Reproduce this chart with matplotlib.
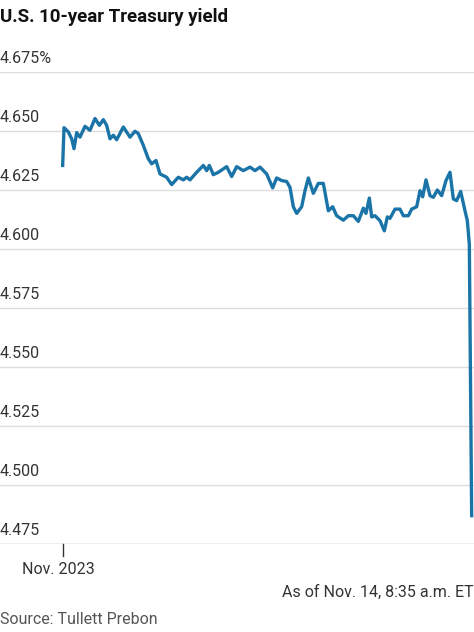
import matplotlib.pyplot as plt
import numpy as np

zx = [38,42,55,65,72,80,90,105,120,135,148,160,170,180,190,200,220,240,255,265,280,295,305,318,330,350,365,385,400,410,420,440,460,470,478,490,505,530,545,560,580,600,615,630,650,668,680,695,710,720,730,740,755,765,775,790,805,820,835,848,860,880,895,910,925,940,948,958,965,975,990,1003,1012,1020,1035,1050,1060,1075,1085,1100,1110,1118,1128,1140,1150,1162,1175,1188,1200,1210,1220,1232,1245,1252,1258,1265]
yields = [4.6354,4.6514,4.6496,4.6467,4.6425,4.6493,4.6474,4.6520,4.6503,4.6553,4.6524,4.6548,4.6524,4.6467,4.6482,4.6463,4.6517,4.6474,4.6499,4.6489,4.6439,4.6382,4.6361,4.6375,4.6318,4.6304,4.6273,4.6304,4.6293,4.6304,4.6293,4.6325,4.6354,4.6332,4.6354,4.6315,4.6325,4.6349,4.6307,4.6349,4.6332,4.6347,4.6332,4.6347,4.6318,4.6259,4.6301,4.6290,4.6286,4.6261,4.6179,4.6151,4.6179,4.6247,4.6301,4.6236,4.6278,4.6278,4.6162,4.6179,4.6141,4.6122,4.6141,4.6141,4.6117,4.6173,4.6151,4.6216,4.6136,4.6141,4.6120,4.6077,4.6136,4.6130,4.6169,4.6169,4.6141,4.6141,4.6169,4.6179,4.6247,4.6221,4.6293,4.6226,4.6219,4.6250,4.6226,4.6290,4.6325,4.6212,4.6205,4.6244,4.6162,4.6120,4.6020,4.4870]
ytick_vals = [4.475,4.500,4.525,4.550,4.575,4.600,4.625,4.650,4.675]
ytick_labels = ["4.475","4.500","4.525","4.550","4.575","4.600","4.625","4.650","4.675%"]

x = 50 + np.array(zx)/3.0

W, H = 474, 632
fig = plt.figure(figsize=(W/100, H/100), dpi=100)
plt.rcParams['font.family'] = ['Roboto', 'DejaVu Sans']
ax = fig.add_axes([0, 1-544/H, 1, (544-72)/H])
ax.set_xlim(0, 474)
ax.set_ylim(4.475, 4.675)
for v in ytick_vals:
    ax.axhline(v, color='#dddddd', lw=1, zorder=1)
ax.axhline(4.475, color='#cccccc', lw=1, zorder=1)
ax.plot(x, yields, color='#1a74a8', lw=2.4, zorder=3, solid_joinstyle='round')
for v, l in zip(ytick_vals, ytick_labels):
    ax.text(0, v + 0.0025, l, fontsize=11.5, color='#333333', va='bottom', ha='left')
for s in ax.spines.values():
    s.set_visible(False)
ax.set_xticks([]); ax.set_yticks([])
ax.plot([x[0], x[0]], [4.475, 4.470], color='#333333', lw=1, clip_on=False)

fig.text(0, 1-17/H, "U.S. 10-year Treasury yield", fontsize=13.5, fontweight='bold', va='center', ha='left', color='#111111')
fig.text(22/W, 1-569/H, "Nov. 2023", fontsize=11.5, va='center', ha='left', color='#333333')
fig.text(1, 1-592/H, "As of Nov. 14, 8:35 a.m. ET", fontsize=11.5, va='center', ha='right', color='#333333')
fig.text(0, 1-620/H, "Source: Tullett Prebon", fontsize=11.5, va='center', ha='left', color='#555555')
fig.savefig('out.png', dpi=100)
